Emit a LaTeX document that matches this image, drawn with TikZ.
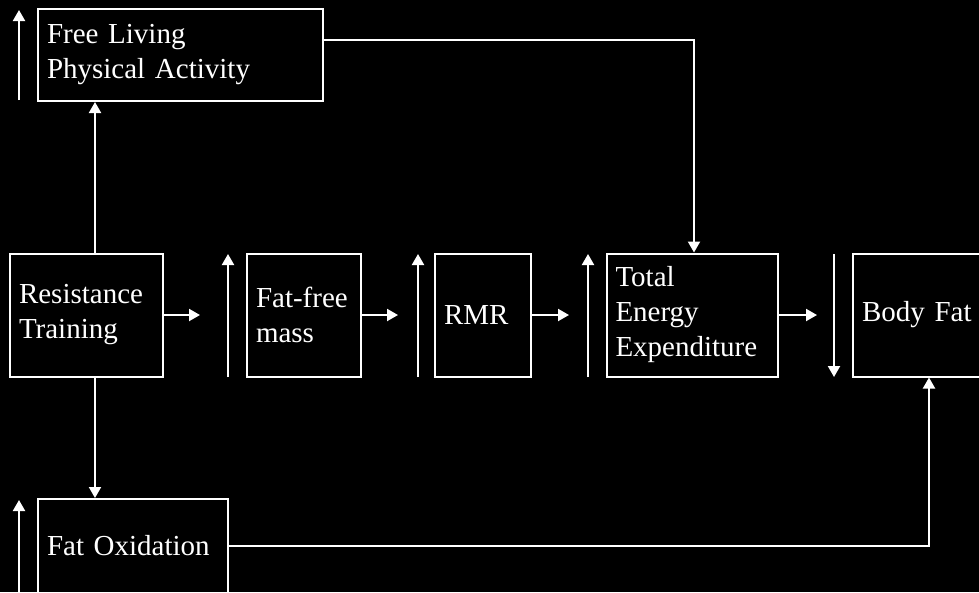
\documentclass[tikz,border=0pt]{standalone}
\usepackage{fontspec}
\setmainfont[WordSpace=0.8]{Liberation Serif}
\usetikzlibrary{arrows.meta}
\tikzset{
  box/.style={draw=white, line width=2pt, fill=black, text=white, align=left,
    inner xsep=9pt, inner ysep=0pt, font=\fontsize{29}{35}\selectfont},
  arr/.style={draw=white, line width=2pt, -{Triangle[length=11pt,width=12pt]}},
  conn/.style={draw=white, line width=2pt}
}
\begin{document}
\begin{tikzpicture}[x=1pt,y=-1pt]
\useasboundingbox (0,0) rectangle (979,592);
\fill[black] (0,0) rectangle (979,592);
\clip (0,0) rectangle (979,592);
% boxes
\node[box, text width=267pt, minimum height=92pt] (fl) at (180.5,55) {Free Living\\Physical Activity};
\node[box, text width=135pt, minimum height=123pt] (rt) at (86.5,315) {Resistance\\Training};
\node[box, text width=96pt, minimum height=123pt] (ffm) at (304,315) {Fat-free\\mass};
\node[box, text width=78pt, minimum height=123pt] (rmr) at (483,315) {RMR};
\node[box, text width=153pt, minimum height=123pt] (tee) at (692,315) {Total\\Energy\\Expenditure};
\node[box, text width=134pt, minimum height=123pt] (bf) at (929,315) {Body Fat};
\node[box, text width=172pt, minimum height=94pt] (fo) at (133,546) {Fat Oxidation};
% coordinates for free arrow ends
\coordinate (a1) at (200,315);
\coordinate (a2) at (398,315);
\coordinate (a3) at (569,315);
\coordinate (a4) at (817,315);
\coordinate (u1s) at (19,100); \coordinate (u1e) at (19,10);
\coordinate (u2s) at (19,592); \coordinate (u2e) at (19,500);
\coordinate (u3s) at (228,377); \coordinate (u3e) at (228,254);
\coordinate (u4s) at (418,377); \coordinate (u4e) at (418,254);
\coordinate (u5s) at (588,377); \coordinate (u5e) at (588,254);
\coordinate (d1s) at (834,254); \coordinate (d1e) at (834,377);
% main connectors
\draw[arr] (rt.east) -- (a1);
\draw[arr] (ffm.east) -- (a2);
\draw[arr] (rmr.east) -- (a3);
\draw[arr] (tee.east) -- (a4);
\draw[arr] ([xshift=8.5pt]rt.north) -- ([xshift=8.5pt]rt.north |- fl.south);
\draw[arr] ([xshift=8.5pt]rt.south) -- ([xshift=8.5pt]rt.south |- fo.north);
\draw[arr] ([yshift=15pt]fl.east) -| ([xshift=2pt]tee.north);
\draw[arr] (fo.east) -| (bf.south);
% change indicators
\draw[arr] (u1s) -- (u1e);
\draw[arr] (u2s) -- (u2e);
\draw[arr] (u3s) -- (u3e);
\draw[arr] (u4s) -- (u4e);
\draw[arr] (u5s) -- (u5e);
\draw[arr] (d1s) -- (d1e);
\end{tikzpicture}
\end{document}
